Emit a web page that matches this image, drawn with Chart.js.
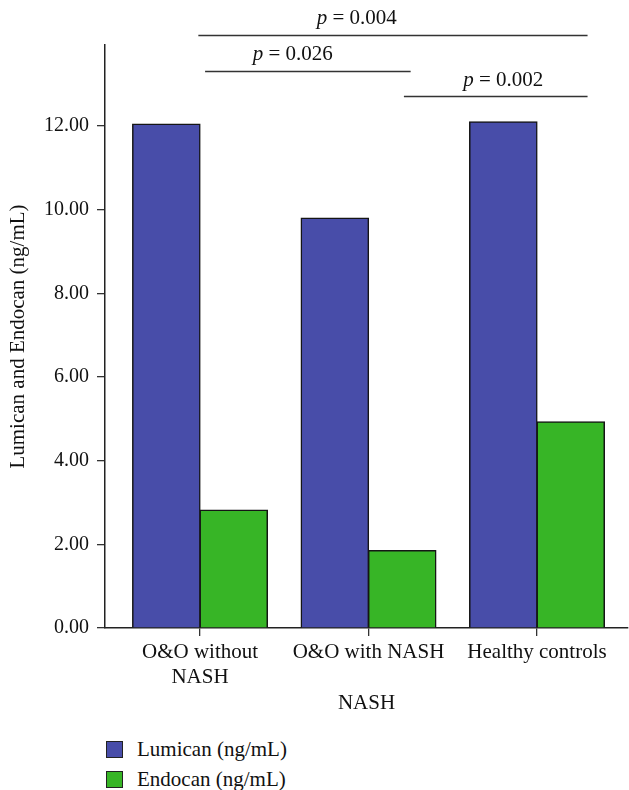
<!DOCTYPE html>
<html>
<head>
<meta charset="utf-8">
<script src="https://cdn.jsdelivr.net/npm/chart.js@4.4.1/dist/chart.umd.min.js"></script>
<style>
    html, body { margin: 0; padding: 0; background: #fff; }
    #wrap { position: relative; width: 629px; height: 790px; font-family: "Liberation Serif", "DejaVu Serif", serif; }
    #chartBox { position: absolute; left: 0; top: 0; width: 629px; height: 720px; }
    .legendItem { position: absolute; left: 106px; height: 30px; display: flex; align-items: center; font-size: 21px; color: #111; }
    .legendItem span.box { display: inline-block; width: 15px; height: 15px; border: 1.5px solid #222; margin-right: 14px; }
</style>
</head>
<body>
<div id="wrap">
    <div id="chartBox"><canvas id="nashChart" width="629" height="720"></canvas></div>
    <div id="legendBox"></div>
</div>
<script>
const categoryLabels = [['O&O without', 'NASH'], 'O&O with NASH', 'Healthy controls'];
const seriesNames = ['Lumican (ng/mL)', 'Endocan (ng/mL)'];
const lumicanValues = [12.05, 9.80, 12.10];
const endocanValues = [2.82, 1.85, 4.93];
const yTickValues = [0, 2, 4, 6, 8, 10, 12];

// significance brackets: x in category units, y in value units
const bracketLabels = ['0.004', '0.026', '0.002'];
const bracketFrom = [-0.01, 0.03, 1.21];
const bracketTo = [2.30, 1.25, 2.30];
const bracketLevel = [14.18, 13.32, 12.72];
const bracketTextX = [0.93, 0.55, 1.80];
const bracketTextY = [14.58, 13.72, 13.10];

const seriesColors = ['#484da9', '#37b526'];
const serifFont = '"Liberation Serif", "DejaVu Serif", serif';

const bracketPlugin = {
    id: 'bracketPlugin',
    afterDraw(chart) {
        const ctx = chart.ctx;
        const xs = chart.scales.x;
        const ys = chart.scales.y;
        ctx.save();
        ctx.strokeStyle = '#333';
        ctx.lineWidth = 1.3;
        ctx.fillStyle = '#111';
        ctx.textBaseline = 'middle';
        bracketLabels.forEach((label, i) => {
            const y = Math.round(ys.getPixelForValue(bracketLevel[i])) + 0.5;
            ctx.beginPath();
            ctx.moveTo(xs.getPixelForValue(bracketFrom[i]), y);
            ctx.lineTo(xs.getPixelForValue(bracketTo[i]), y);
            ctx.stroke();

            const italicPart = 'p';
            const restPart = ' = ' + label;
            ctx.font = 'italic 21px ' + serifFont;
            const w1 = ctx.measureText(italicPart).width;
            ctx.font = '21px ' + serifFont;
            const w2 = ctx.measureText(restPart).width;
            const cx = xs.getPixelForValue(bracketTextX[i]);
            const ty = ys.getPixelForValue(bracketTextY[i]);
            const start = cx - (w1 + w2) / 2;
            ctx.textAlign = 'left';
            ctx.font = 'italic 21px ' + serifFont;
            ctx.fillText(italicPart, start, ty);
            ctx.font = '21px ' + serifFont;
            ctx.fillText(restPart, start + w1, ty);
        });
        ctx.restore();
    }
};

const ctx = document.getElementById('nashChart').getContext('2d');

const datasets = [lumicanValues, endocanValues].map((values, index) => ({
    label: seriesNames[index],
    data: values.map((v, i) => ({ x: i, y: v })),
    backgroundColor: seriesColors[index],
    borderColor: '#151515',
    borderWidth: 1.5,
    borderSkipped: 'bottom',
    inflateAmount: 0.6,
    categoryPercentage: 0.8,
    barPercentage: 1.0
}));

const nashChart = new Chart(ctx, {
    type: 'bar',
    data: { datasets: datasets },
    plugins: [bracketPlugin],
    options: {
        responsive: false,
        animation: false,
        layout: { padding: { top: 45, right: 1, left: 0, bottom: 0 } },
        plugins: {
            legend: { display: false },
            tooltip: { enabled: false }
        },
        scales: {
            x: {
                type: 'linear',
                offset: false,
                min: -0.564,
                max: 2.54,
                afterBuildTicks: scale => {
                    scale.ticks = categoryLabels.map((c, i) => ({ value: i }));
                },
                afterFit: scale => { scale.height = 92; },
                ticks: {
                    callback: value => categoryLabels[value],
                    color: '#111',
                    font: { family: serifFont, size: 21 },
                    padding: 4,
                    maxRotation: 0,
                    autoSkip: false
                },
                grid: { offset: false, drawOnChartArea: false, tickLength: 8, color: '#333', lineWidth: 1.3 },
                border: { color: '#222', width: 1.5 },
                title: {
                    display: true,
                    text: 'NASH',
                    color: '#111',
                    font: { family: serifFont, size: 21 },
                    padding: { top: 4, bottom: 4 }
                }
            },
            y: {
                min: 0,
                max: 13.94,
                afterBuildTicks: scale => {
                    scale.ticks = yTickValues.map(v => ({ value: v }));
                },
                afterFit: scale => { scale.width = 105; },
                ticks: {
                    callback: value => value.toFixed(2),
                    color: '#111',
                    font: { family: serifFont, size: 20 },
                    padding: 8
                },
                grid: { drawOnChartArea: false, tickLength: 8, color: '#333', lineWidth: 1.3 },
                border: { color: '#222', width: 1.5 },
                title: {
                    display: true,
                    text: 'Lumican and Endocan (ng/mL)',
                    color: '#111',
                    font: { family: serifFont, size: 21 },
                    padding: { top: 6, bottom: 4 }
                }
            }
        }
    }
});

// legend drawn as html, stacked vertically
const legendBox = document.getElementById('legendBox');
seriesNames.forEach((name, index) => {
    const item = document.createElement('div');
    item.className = 'legendItem';
    item.style.top = (734 + index * 30) + 'px';
    item.innerHTML = '<span class="box" style="background:' + seriesColors[index] + '"></span>' + name;
    legendBox.appendChild(item);
});
</script>
</body>
</html>
